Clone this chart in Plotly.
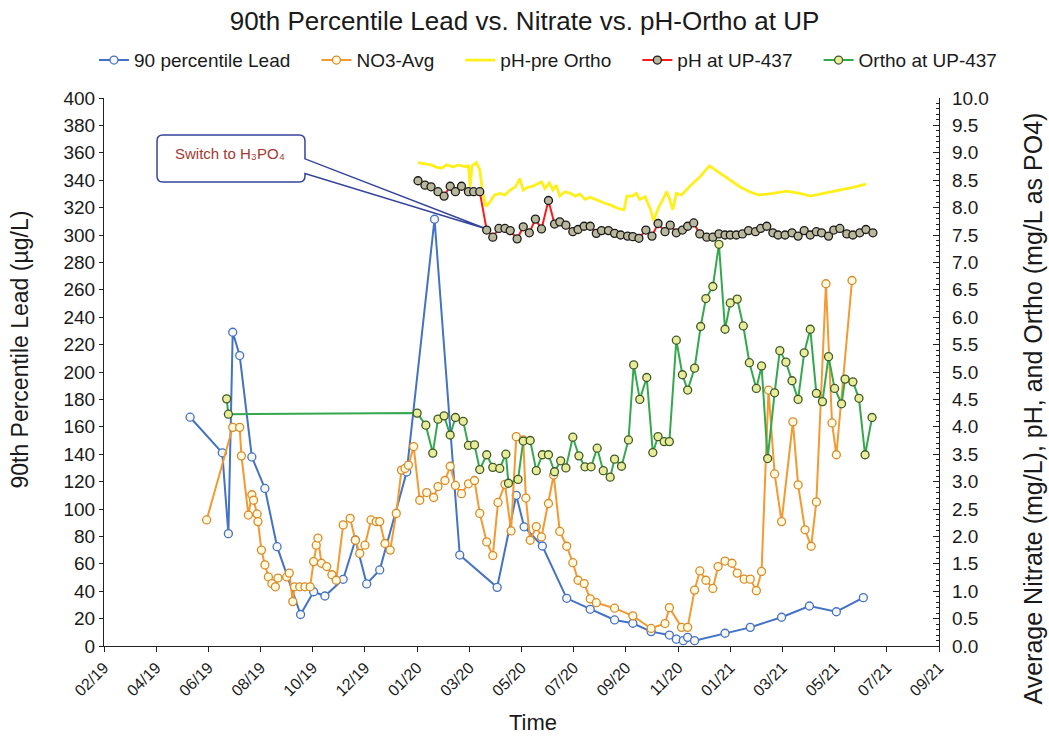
import plotly.graph_objects as go

# ---------------- data ----------------
lead_dates = ["2019-05-14", "2019-06-20", "2019-06-27", "2019-07-02", "2019-07-10", "2019-07-24",
              "2019-08-08", "2019-08-22", "2019-09-18", "2019-10-03", "2019-10-16", "2019-11-06",
              "2019-11-20", "2019-12-03", "2019-12-18", "2020-01-18", "2020-02-19", "2020-03-19",
              "2020-05-01", "2020-05-23", "2020-06-01", "2020-06-22", "2020-07-20", "2020-08-16",
              "2020-09-13", "2020-10-04", "2020-10-25", "2020-11-15", "2020-11-23", "2020-12-01",
              "2020-12-06", "2020-12-14", "2021-01-18", "2021-02-16", "2021-03-24", "2021-04-25",
              "2021-05-26", "2021-06-26"]
lead_vals = [167, 141, 82, 229, 212, 138, 115, 72.5, 23, 39.6, 36.5, 48.7, 77.4, 45.3, 55.5, 127,
             311.5, 66.4, 42.8, 110, 87, 73, 34.8, 26.8, 19, 16.6, 10.5, 8, 5, 3.9, 6.3, 3.9, 9.3,
             13.6, 21, 29.2, 25, 35.3]

no3_dates = ["2019-06-02", "2019-07-02", "2019-07-10", "2019-07-12", "2019-07-20", "2019-07-24",
             "2019-07-26", "2019-07-30", "2019-07-31", "2019-08-04", "2019-08-08", "2019-08-12",
             "2019-08-16", "2019-08-20", "2019-08-23", "2019-09-02", "2019-09-05", "2019-09-09",
             "2019-09-11", "2019-09-17", "2019-09-23", "2019-09-29", "2019-10-03", "2019-10-06",
             "2019-10-08", "2019-10-12", "2019-10-18", "2019-10-24", "2019-10-29", "2019-11-06",
             "2019-11-14", "2019-11-20", "2019-11-25", "2019-12-01", "2019-12-08", "2019-12-14",
             "2019-12-18", "2019-12-24", "2019-12-30", "2020-01-06", "2020-01-12", "2020-01-16",
             "2020-01-20", "2020-01-26", "2020-02-02", "2020-02-10", "2020-02-18", "2020-02-23",
             "2020-03-02", "2020-03-08", "2020-03-14", "2020-03-21", "2020-03-29", "2020-04-05",
             "2020-04-11", "2020-04-19", "2020-04-26", "2020-05-02", "2020-05-10", "2020-05-17",
             "2020-05-23", "2020-05-31", "2020-06-03", "2020-06-08", "2020-06-15", "2020-06-21",
             "2020-06-29", "2020-07-05", "2020-07-12", "2020-07-20", "2020-07-27", "2020-08-02",
             "2020-08-09", "2020-08-16", "2020-08-23", "2020-09-13", "2020-10-04", "2020-10-25",
             "2020-11-10", "2020-11-15", "2020-11-29", "2020-12-06", "2020-12-14", "2020-12-20",
             "2020-12-27", "2021-01-04", "2021-01-10", "2021-01-18", "2021-01-26", "2021-02-01",
             "2021-02-09", "2021-02-16", "2021-02-23", "2021-03-01", "2021-03-09", "2021-03-16",
             "2021-03-24", "2021-04-06", "2021-04-12", "2021-04-20", "2021-04-27", "2021-05-03",
             "2021-05-14", "2021-05-21", "2021-05-26", "2021-06-13"]
no3_vals = [2.30, 3.99, 3.99, 3.47, 2.39, 2.76, 2.66, 2.41, 2.27, 1.75, 1.48, 1.26, 1.14, 1.08, 1.24,
            1.26, 1.33, 0.81, 1.08, 1.08, 1.08, 1.08, 1.54, 1.84, 1.97, 1.51, 1.45, 1.30, 1.20, 2.21,
            2.33, 1.93, 1.69, 1.84, 2.30, 2.27, 2.27, 1.87, 1.75, 2.42, 3.21, 3.24, 3.30, 3.64, 2.66,
            2.80, 2.71, 2.91, 3.02, 3.28, 2.93, 2.78, 2.96, 3.02, 2.42, 1.90, 1.65, 2.62, 2.95, 2.10,
            3.82, 3.76, 2.70, 1.93, 2.18, 1.99, 2.60, 3.12, 2.09, 1.82, 1.52, 1.20, 1.14, 0.86, 0.79,
            0.69, 0.55, 0.32, 0.41, 0.70, 0.34, 0.34, 1.02, 1.37, 1.20, 1.05, 1.45, 1.55, 1.51, 1.33,
            1.22, 1.22, 1.01, 1.36, 4.67, 3.14, 2.27, 4.09, 2.94, 2.12, 1.82, 2.63, 6.61, 4.07, 3.49,
            6.67]

pre_dates = ["2020-01-31", "2020-02-08", "2020-02-15", "2020-02-21", "2020-02-27", "2020-03-04",
             "2020-03-12", "2020-03-17", "2020-03-25", "2020-03-29", "2020-03-31", "2020-04-02",
             "2020-04-07", "2020-04-11", "2020-04-14", "2020-04-18", "2020-04-23", "2020-04-28",
             "2020-05-04", "2020-05-10", "2020-05-16", "2020-05-22", "2020-05-27", "2020-05-31",
             "2020-06-05", "2020-06-11", "2020-06-17", "2020-06-21", "2020-06-25", "2020-06-30",
             "2020-07-04", "2020-07-08", "2020-07-12", "2020-07-18", "2020-07-24", "2020-07-30",
             "2020-08-04", "2020-08-10", "2020-08-16", "2020-08-22", "2020-08-27", "2020-09-02",
             "2020-09-08", "2020-09-13", "2020-09-19", "2020-09-24", "2020-09-27", "2020-10-03",
             "2020-10-08", "2020-10-12", "2020-10-18", "2020-10-24", "2020-10-28", "2020-11-02",
             "2020-11-06", "2020-11-12", "2020-11-15", "2020-11-19", "2020-11-23", "2020-11-29",
             "2020-12-08", "2020-12-20", "2020-12-31", "2021-01-12", "2021-01-23", "2021-02-04",
             "2021-02-15", "2021-02-26", "2021-03-14", "2021-03-30", "2021-04-14", "2021-04-26",
             "2021-05-11", "2021-05-30", "2021-06-14", "2021-06-29"]
pre_vals = [8.82, 8.80, 8.78, 8.74, 8.72, 8.78, 8.74, 8.78, 8.75, 8.76, 8.38, 8.76, 8.82, 8.69, 8.32,
            8.02, 8.11, 8.23, 8.26, 8.23, 8.32, 8.38, 8.53, 8.32, 8.37, 8.39, 8.43, 8.47, 8.35, 8.45,
            8.32, 8.41, 8.21, 8.29, 8.26, 8.21, 8.25, 8.15, 8.19, 8.15, 8.11, 8.08, 8.05, 8.02, 7.97,
            7.96, 8.21, 8.21, 8.26, 8.15, 8.20, 7.98, 7.76, 7.98, 8.11, 8.29, 8.17, 7.96, 8.26, 8.23,
            8.38, 8.56, 8.76, 8.63, 8.50, 8.38, 8.29, 8.23, 8.26, 8.30, 8.26, 8.21, 8.26, 8.32, 8.37,
            8.43]

ph_dates = ["2020-01-31", "2020-02-08", "2020-02-15", "2020-02-23", "2020-03-01", "2020-03-08",
            "2020-03-14", "2020-03-21", "2020-03-29", "2020-04-04", "2020-04-11", "2020-04-19",
            "2020-04-26", "2020-05-03", "2020-05-10", "2020-05-16", "2020-05-24", "2020-05-31",
            "2020-06-07", "2020-06-14", "2020-06-21", "2020-06-29", "2020-07-06", "2020-07-12",
            "2020-07-19", "2020-07-27", "2020-08-02", "2020-08-09", "2020-08-16", "2020-08-23",
            "2020-08-29", "2020-09-06", "2020-09-13", "2020-09-20", "2020-09-28", "2020-10-04",
            "2020-10-11", "2020-10-19", "2020-10-26", "2020-11-02", "2020-11-10", "2020-11-16",
            "2020-11-23", "2020-11-30", "2020-12-06", "2020-12-13", "2020-12-20", "2020-12-28",
            "2021-01-04", "2021-01-11", "2021-01-18", "2021-01-24", "2021-01-31", "2021-02-07",
            "2021-02-14", "2021-02-22", "2021-02-28", "2021-03-07", "2021-03-14", "2021-03-20",
            "2021-03-28", "2021-04-05", "2021-04-12", "2021-04-19", "2021-04-26", "2021-05-03",
            "2021-05-09", "2021-05-17", "2021-05-23", "2021-05-30", "2021-06-07", "2021-06-14",
            "2021-06-22", "2021-06-29", "2021-07-07"]
ph_vals = [8.49, 8.41, 8.38, 8.29, 8.21, 8.39, 8.29, 8.39, 8.29, 8.29, 8.29, 7.59, 7.46, 7.62, 7.62,
           7.58, 7.43, 7.65, 7.54, 7.79, 7.61, 8.13, 7.70, 7.74, 7.68, 7.56, 7.60, 7.66, 7.66, 7.53,
           7.58, 7.58, 7.53, 7.50, 7.48, 7.47, 7.44, 7.59, 7.48, 7.71, 7.56, 7.68, 7.54, 7.59, 7.66,
           7.72, 7.52, 7.46, 7.46, 7.52, 7.50, 7.50, 7.50, 7.52, 7.58, 7.56, 7.62, 7.66, 7.54, 7.50,
           7.50, 7.54, 7.48, 7.58, 7.50, 7.56, 7.54, 7.48, 7.59, 7.62, 7.52, 7.50, 7.54, 7.60, 7.54]

ortho_dates = ["2019-06-25", "2019-06-27", "2020-01-30", "2020-02-09", "2020-02-17", "2020-02-23",
               "2020-03-01", "2020-03-08", "2020-03-14", "2020-03-23", "2020-03-29", "2020-04-05",
               "2020-04-11", "2020-04-19", "2020-04-26", "2020-05-04", "2020-05-11", "2020-05-14",
               "2020-05-25", "2020-05-31", "2020-06-08", "2020-06-15", "2020-06-22", "2020-06-29",
               "2020-07-06", "2020-07-13", "2020-07-19", "2020-07-27", "2020-08-03", "2020-08-10",
               "2020-08-17", "2020-08-24", "2020-08-31", "2020-09-08", "2020-09-13", "2020-09-21",
               "2020-09-29", "2020-10-05", "2020-10-12", "2020-10-20", "2020-10-27", "2020-11-02",
               "2020-11-09", "2020-11-15", "2020-11-23", "2020-11-30", "2020-12-06", "2020-12-14",
               "2020-12-21", "2020-12-27", "2021-01-04", "2021-01-11", "2021-01-18", "2021-01-24",
               "2021-02-01", "2021-02-08", "2021-02-15", "2021-02-23", "2021-03-01", "2021-03-08",
               "2021-03-16", "2021-03-22", "2021-03-29", "2021-04-05", "2021-04-12", "2021-04-19",
               "2021-04-26", "2021-05-03", "2021-05-10", "2021-05-17", "2021-05-24", "2021-06-01",
               "2021-06-05", "2021-06-14", "2021-06-21", "2021-06-28", "2021-07-06"]
ortho_vals = [4.51, 4.23, 4.25, 4.03, 3.52, 4.14, 4.20, 3.85, 4.17, 4.10, 3.66, 3.67, 3.22, 3.49,
              3.26, 3.24, 3.50, 2.97, 3.04, 3.74, 3.75, 3.20, 3.49, 3.49, 3.18, 3.38, 3.25, 3.81,
              3.47, 3.27, 3.27, 3.61, 3.20, 3.08, 3.41, 3.28, 3.76, 5.13, 4.50, 4.90, 3.53, 3.82,
              3.73, 3.73, 5.58, 4.95, 4.67, 5.07, 5.83, 6.34, 6.56, 7.33, 5.78, 6.26, 6.33, 5.84,
              5.17, 4.70, 5.11, 3.42, 4.62, 5.39, 5.18, 4.84, 4.50, 5.35, 5.78, 4.61, 4.46, 5.28,
              4.70, 4.42, 4.87, 4.82, 4.52, 3.49, 4.17]

x_start, x_end = "2019-02-04", "2021-09-21"

# ---------------- styling ----------------
FONT = "Liberation Sans, Arial, sans-serif"
TXT = "#1a1a1a"
BLUE, ORANGE, YELLOW, RED, GREEN = "#4472C4", "#F39A30", "#FFEF1A", "#FF1A1A", "#35A84E"
MS = 8
GAP = "\u00a0" * 4  # extra spacing between legend entries

fig = go.Figure()
fig.add_trace(go.Scatter(
    x=lead_dates, y=lead_vals, name="90 percentile Lead" + GAP, mode="lines+markers",
    line=dict(color=BLUE, width=2),
    marker=dict(symbol="circle", size=MS, color="#F7F7F2", line=dict(color=BLUE, width=1.3)),
    yaxis="y"))
fig.add_trace(go.Scatter(
    x=no3_dates, y=no3_vals, name="NO3-Avg" + GAP, mode="lines+markers",
    line=dict(color=ORANGE, width=2),
    marker=dict(symbol="circle", size=MS, color="#FFFBE0", line=dict(color="#D98A2A", width=1.3)),
    yaxis="y2"))
fig.add_trace(go.Scatter(
    x=pre_dates, y=pre_vals, name="pH-pre Ortho" + GAP, mode="lines",
    line=dict(color=YELLOW, width=2.8), yaxis="y2"))
fig.add_trace(go.Scatter(
    x=ph_dates, y=ph_vals, name="pH at UP-437" + GAP, mode="lines+markers",
    line=dict(color=RED, width=2),
    marker=dict(symbol="circle", size=MS, color="#B9B79C", line=dict(color="#1a1a1a", width=1.3)),
    yaxis="y2"))
fig.add_trace(go.Scatter(
    x=ortho_dates, y=ortho_vals, name="Ortho at UP-437", mode="lines+markers",
    line=dict(color=GREEN, width=2),
    marker=dict(symbol="circle", size=MS, color="#E9EC9A", line=dict(color="#3F5A25", width=1.3)),
    yaxis="y2"))

DAY_MS = 86400000
fig.update_layout(
    width=1049, height=739,
    margin=dict(l=104, r=110, t=98, b=93, autoexpand=False),
    plot_bgcolor="white", paper_bgcolor="white",
    hovermode=False,
    font=dict(family=FONT, color=TXT, size=16),
    title=dict(text="90th Percentile Lead vs. Nitrate vs. pH-Ortho at UP",
               x=0.5, xanchor="center", xref="container", y=1 - 21 / 739, yanchor="middle",
               yref="container", font=dict(family=FONT, size=26, color=TXT)),
    legend=dict(orientation="h", xref="paper", x=-0.012, xanchor="left",
                yref="paper", y=1.069, yanchor="middle",
                font=dict(size=19, family=FONT, color=TXT), itemwidth=30,
                bgcolor="rgba(0,0,0,0)", tracegroupgap=0),
    xaxis=dict(type="date", range=[x_start, x_end], tick0=x_start, dtick=60 * DAY_MS,
               tickformat="%m/%y", tickangle=-45, tickfont=dict(size=16, color=TXT),
               showgrid=False, zeroline=False, showline=True, linecolor="#222", linewidth=1.2,
               ticks="outside", ticklen=5, tickcolor="#222"),
    yaxis=dict(range=[0, 400], dtick=20, showgrid=False, zeroline=False, showline=True,
               linecolor="#222", linewidth=1.2, ticks="outside", ticklen=4, tickcolor="#222",
               tickfont=dict(size=19, color=TXT)),
    yaxis2=dict(range=[0, 10], dtick=0.5, tickformat=".1f", overlaying="y", side="right",
                showgrid=False, zeroline=False, showline=True, linecolor="#222", linewidth=1.2,
                ticks="inside", ticklen=6, tickcolor="#222", tickfont=dict(size=19, color=TXT),
                ticklabelstandoff=8,
                minor=dict(dtick=0.1, ticks="inside", ticklen=3, tickcolor="#222")),
)

# axis titles
fig.add_annotation(text="90th Percentile Lead (µg/L)", xref="paper", yref="paper",
                   x=-0.1, y=0.54, xanchor="center", yanchor="middle", textangle=-90,
                   showarrow=False, font=dict(size=23, family=FONT, color=TXT))
fig.add_annotation(text="Average Nitrate (mg/L), pH, and Ortho (mg/L as PO4)", xref="paper",
                   yref="paper", x=1.113, y=0.434, xanchor="center", yanchor="middle",
                   textangle=-90, showarrow=False, font=dict(size=25, family=FONT, color=TXT))
fig.add_annotation(text="Time", xref="paper", yref="paper", x=0.514, y=-0.139,
                   xanchor="center", yanchor="middle",
                   showarrow=False, font=dict(size=22, family=FONT, color=TXT))

# callout box with pointer
x0, x1 = 0.0635, 0.2407
yt, yb = 0.9325, 0.8467
yw1, yw2 = 0.889, 0.862
tipx, tipy = 0.4583, 0.761
rx, ry = 0.007, 0.011
path = (f"M {x0+rx},{yt} L {x1-rx},{yt} Q {x1},{yt} {x1},{yt-ry} L {x1},{yw1} "
        f"L {tipx},{tipy} L {x1},{yw2} L {x1},{yb+ry} Q {x1},{yb} {x1-rx},{yb} "
        f"L {x0+rx},{yb} Q {x0},{yb} {x0},{yb+ry} L {x0},{yt-ry} Q {x0},{yt} {x0+rx},{yt} Z")
fig.add_shape(type="path", path=path, xref="paper", yref="paper",
              line=dict(color="#34449A", width=1.5), fillcolor="white", layer="below")
fig.add_annotation(text="Switch to H₃PO₄", xref="paper", yref="paper",
                   x=0.151, y=0.898, xanchor="center", yanchor="middle", showarrow=False,
                   font=dict(size=15, family=FONT, color="#A33A32"))

fig.write_html("out.html", config={"displayModeBar": False},
               post_script="document.body.style.margin='0';")
